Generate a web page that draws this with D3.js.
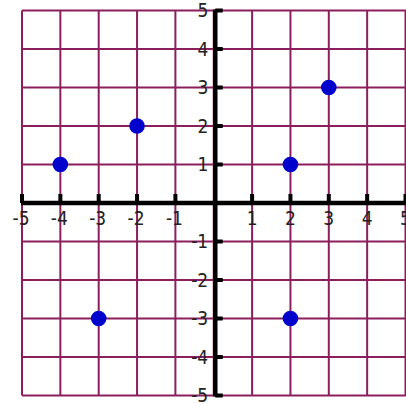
<!DOCTYPE html>
<html>
<head>
<meta charset="utf-8">
<script src="https://cdn.jsdelivr.net/npm/d3@7"></script>
<style>
  body { margin: 0; background: #fff; }
  svg { display: block; }
  .lbl { font-family: "Liberation Sans Narrow", "DejaVu Sans Condensed", "Liberation Sans", sans-serif; font-size: 19px; fill: #222; }
</style>
</head>
<body>
<svg id="chart" width="406" height="404"></svg>
<script>
// grid values and tick labels
var gridValues = [-5, -4, -3, -2, -1, 0, 1, 2, 3, 4, 5];
var tickValues = [-5, -4, -3, -2, -1, 1, 2, 3, 4, 5];
var tickLabels = ["-5", "-4", "-3", "-2", "-1", "1", "2", "3", "4", "5"];

// the plotted points
var pointX = [-4, -2, 2, 3, -3, 2];
var pointY = [1, 2, 1, 3, -3, -3];

var svg = d3.select("#chart");

var x = d3.scaleLinear().domain([-5, 5]).range([22, 405.5]);
var y = d3.scaleLinear().domain([-5, 5]).range([395.5, 10.5]);

var gridColor = "#8b1f5e";

// vertical grid lines
svg.append("g").selectAll("line")
    .data(gridValues)
    .enter().append("line")
    .attr("x1", function(d) { return x(d); })
    .attr("x2", function(d) { return x(d); })
    .attr("y1", y(5))
    .attr("y2", y(-5))
    .style("stroke", gridColor)
    .style("stroke-width", 2);

// horizontal grid lines
svg.append("g").selectAll("line")
    .data(gridValues)
    .enter().append("line")
    .attr("y1", function(d) { return y(d); })
    .attr("y2", function(d) { return y(d); })
    .attr("x1", x(-5))
    .attr("x2", x(5) + 2)
    .style("stroke", gridColor)
    .style("stroke-width", 2);

// the axes themselves, thick black
var axisX = x(0) + 1.5;
var axisY = y(0);

svg.append("line")
    .attr("x1", x(-5) - 1).attr("x2", x(5) + 2)
    .attr("y1", axisY).attr("y2", axisY)
    .style("stroke", "#000").style("stroke-width", 4.5);

svg.append("line")
    .attr("x1", axisX).attr("x2", axisX)
    .attr("y1", y(5) - 1).attr("y2", y(-5) + 1)
    .style("stroke", "#000").style("stroke-width", 4.5);

// ticks on x axis point upward
svg.append("g").selectAll("rect")
    .data(tickValues)
    .enter().append("rect")
    .attr("x", function(d) { return x(d) - 2; })
    .attr("y", axisY - 9)
    .attr("width", 4)
    .attr("height", 9)
    .style("fill", "#000");

// ticks on y axis point to the right
svg.append("g").selectAll("rect")
    .data(tickValues)
    .enter().append("rect")
    .attr("x", axisX)
    .attr("y", function(d) { return y(d) - 2; })
    .attr("width", 7.5)
    .attr("height", 4)
    .style("fill", "#000");

// x labels below the axis
svg.append("g").selectAll("text")
    .data(tickValues)
    .enter().append("text")
    .attr("class", "lbl")
    .attr("x", function(d) { return x(d) + (d < 0 ? -1 : 0); })
    .attr("y", axisY + 22)
    .attr("text-anchor", "middle")
    .text(function(d, i) { return tickLabels[i]; });

// y labels left of the axis
svg.append("g").selectAll("text")
    .data(tickValues)
    .enter().append("text")
    .attr("class", "lbl")
    .attr("x", axisX - 7)
    .attr("y", function(d) { return y(d); })
    .attr("dy", "0.36em")
    .attr("text-anchor", "end")
    .text(function(d, i) { return tickLabels[i]; });

// points
svg.append("g").selectAll("circle")
    .data(pointX)
    .enter().append("circle")
    .attr("cx", function(d) { return x(d); })
    .attr("cy", function(d, i) { return y(pointY[i]); })
    .attr("r", 7.8)
    .style("fill", "#0000cc");
</script>
</body>
</html>
